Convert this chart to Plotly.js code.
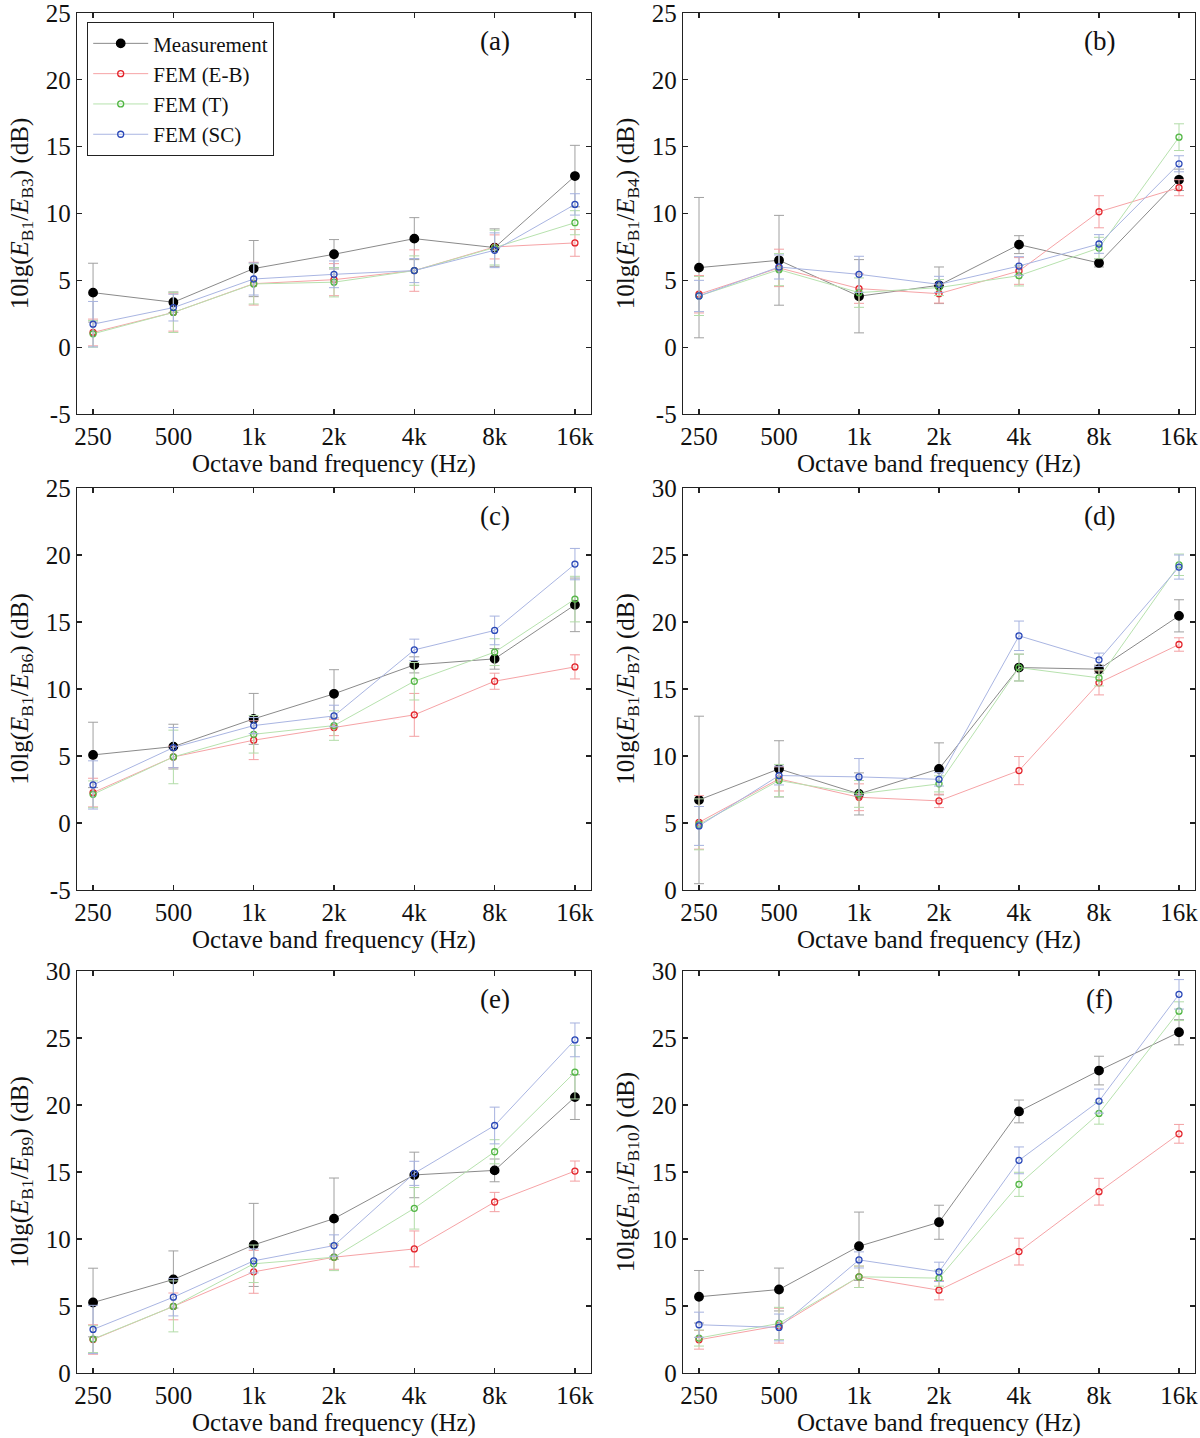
<!DOCTYPE html>
<html>
<head>
<meta charset="utf-8">
<script src="https://cdn.plot.ly/plotly-3.0.1.min.js"></script>
<style>
    html, body { margin: 0; padding: 0; background: #fff; }
    #chart { width: 1200px; height: 1438px; }
</style>
</head>
<body>
<div id="chart"></div>
<script>
// octave bands
let bands = ['250', '500', '1k', '2k', '4k', '8k', '16k']

// (a) E_B1/E_B3
let measA = [4.08, 3.36, 5.88, 6.95, 8.12, 7.45, 12.8]
let measAErr = [2.2, 0.77, 2.1, 1.1, 1.57, 1.4, 2.3]
let ebA = [1.1, 2.6, 4.75, 5.05, 5.73, 7.5, 7.8]
let ebAErr = [1.0, 1.4, 1.6, 1.2, 1.55, 0.9, 1.0]
let tA = [1.0, 2.6, 4.73, 4.86, 5.73, 7.45, 9.31]
let tAErr = [1.0, 1.5, 1.5, 1.1, 1.1, 1.3, 0.9]
let scA = [1.72, 2.96, 5.1, 5.45, 5.73, 7.25, 10.68]
let scAErr = [1.7, 1.0, 1.2, 1.0, 0.9, 1.3, 0.8]

// (b) E_B1/E_B4
let measB = [5.95, 6.5, 3.81, 4.63, 7.67, 6.3, 12.52]
let measBErr = [5.25, 3.36, 2.74, 1.37, 0.67, 0.3, 0.8]
let ebB = [3.96, 5.93, 4.38, 4.0, 5.7, 10.13, 11.93]
let ebBErr = [1.4, 1.4, 1.1, 0.7, 1.0, 1.2, 0.6]
let tB = [3.83, 5.8, 4.08, 4.46, 5.35, 7.42, 15.71]
let tBErr = [1.46, 1.2, 1.1, 0.6, 0.77, 0.8, 1.0]
let scB = [3.83, 6.0, 5.45, 4.7, 6.07, 7.72, 13.72]
let scBErr = [1.17, 0.9, 1.35, 0.6, 0.7, 0.7, 0.6]

// (c) E_B1/E_B6
let measC = [5.08, 5.7, 7.77, 9.64, 11.8, 12.25, 16.28]
let measCErr = [2.44, 1.67, 1.9, 1.8, 0.6, 0.77, 2.0]
let ebC = [2.27, 4.93, 6.18, 7.12, 8.07, 10.58, 11.65]
let ebCErr = [1.07, 0.8, 1.45, 0.6, 1.6, 0.6, 0.9]
let tC = [2.14, 4.93, 6.62, 7.27, 10.58, 12.75, 16.71]
let tCErr = [1.0, 2.0, 1.4, 1.1, 1.4, 1.0, 1.7]
let scC = [2.84, 5.63, 7.27, 7.99, 12.92, 14.37, 19.32]
let scCErr = [1.8, 1.5, 0.6, 0.8, 0.8, 1.07, 1.17]

// (d) E_B1/E_B7
let measD = [6.72, 9.04, 7.17, 9.04, 16.6, 16.48, 20.46]
let measDErr = [6.25, 2.1, 1.57, 1.94, 1.0, 0.3, 1.2]
let ebD = [5.05, 8.29, 6.92, 6.65, 8.91, 15.46, 18.32]
let ebDErr = [2.0, 0.9, 1.0, 0.5, 1.05, 0.9, 0.5]
let tD = [4.9, 8.17, 7.17, 7.92, 16.6, 15.83, 24.27]
let tDErr = [1.9, 1.2, 1.0, 0.6, 1.0, 0.6, 0.8]
let scD = [4.78, 8.54, 8.44, 8.26, 18.97, 17.18, 24.1]
let scDErr = [1.45, 0.7, 1.37, 0.5, 1.1, 0.5, 0.9]

// (e) E_B1/E_B9
let measE = [5.26, 6.98, 9.56, 11.52, 14.78, 15.12, 20.59]
let measEErr = [2.56, 2.13, 3.1, 3.03, 1.7, 0.85, 1.67]
let ebE = [2.5, 4.97, 7.55, 8.64, 9.26, 12.76, 15.07]
let ebEErr = [1.1, 1.0, 1.6, 0.9, 1.34, 0.72, 0.75]
let tE = [2.53, 4.97, 8.15, 8.64, 12.29, 16.51, 22.45]
let tEErr = [1.0, 1.9, 1.4, 1.0, 1.55, 0.9, 2.0]
let scE = [3.25, 5.66, 8.37, 9.51, 14.9, 18.47, 24.86]
let scEErr = [1.8, 1.4, 0.9, 0.8, 0.9, 1.37, 1.26]

// (f) E_B1/E_B10
let measF = [5.69, 6.23, 9.46, 11.25, 19.52, 22.57, 25.43]
let measFErr = [1.96, 1.6, 2.55, 1.27, 0.85, 1.07, 0.94]
let ebF = [2.48, 3.53, 7.18, 6.18, 9.06, 13.53, 17.85]
let ebFErr = [0.7, 1.3, 0.8, 0.72, 1.0, 1.0, 0.7]
let tF = [2.61, 3.7, 7.18, 7.08, 14.08, 19.37, 27.0]
let tFErr = [0.6, 1.2, 0.8, 0.6, 0.9, 0.8, 0.7]
let scF = [3.6, 3.4, 8.44, 7.55, 15.87, 20.29, 28.26]
let scFErr = [0.94, 1.0, 0.6, 0.72, 1.0, 0.9, 1.1]

let panelLabels = ['(a)', '(b)', '(c)', '(d)', '(e)', '(f)']
let refBands = ['B3', 'B4', 'B6', 'B7', 'B9', 'B10']
let yRanges = [[-5, 25], [-5, 25], [-5, 25], [0, 30], [0, 30], [0, 30]]

let panels = [
    [measA, measAErr, ebA, ebAErr, tA, tAErr, scA, scAErr],
    [measB, measBErr, ebB, ebBErr, tB, tBErr, scB, scBErr],
    [measC, measCErr, ebC, ebCErr, tC, tCErr, scC, scCErr],
    [measD, measDErr, ebD, ebDErr, tD, tDErr, scD, scDErr],
    [measE, measEErr, ebE, ebEErr, tE, tEErr, scE, scEErr],
    [measF, measFErr, ebF, ebFErr, tF, tFErr, scF, scFErr],
]

let seriesStyle = [
    { name: 'Measurement', symbol: 'circle', size: 8.5, marker: '#000000', line: '#8a8a8a', err: '#a0a0a0' },
    { name: 'FEM (E-B)', symbol: 'circle-open', size: 6, marker: '#e3242b', line: '#f6a3a6', err: '#f3a0a3' },
    { name: 'FEM (T)', symbol: 'circle-open', size: 6, marker: '#52b644', line: '#b7e2ae', err: '#b2dca8' },
    { name: 'FEM (SC)', symbol: 'circle-open', size: 6, marker: '#2a48b8', line: '#a9b5e2', err: '#a6b2df' },
]

let font = 'Liberation Serif, Times New Roman, serif'
let xIdx = bands.map((b, i) => i)

// page pixels -> paper fractions
let W = 1200, H = 1438
let M = { l: 77, r: 5, t: 13, b: 65 }
let px = (v) => (v - M.l) / (W - M.l - M.r)
let py = (v) => 1 - (v - M.t) / (H - M.t - M.b)

let colDomains = [[px(77), px(591)], [px(683), px(1195)]]
let rowDomains = [[py(414), py(13)], [py(890), py(488)], [py(1373), py(971)]]

let traces = []
let layout = {
    width: W,
    height: H,
    margin: M,
    paper_bgcolor: '#ffffff',
    plot_bgcolor: '#ffffff',
    font: { family: font, size: 25, color: '#111' },
    showlegend: true,
    legend: {
        x: px(87), y: py(22), xref: 'paper', yref: 'paper',
        xanchor: 'left', yanchor: 'top',
        bgcolor: '#ffffff', bordercolor: '#222', borderwidth: 1.2,
        font: { family: font, size: 21, color: '#111' },
        itemwidth: 55,
        tracegroupgap: 0,
    },
    annotations: [],
}

for (let p = 0; p < 6; p++) {
    let n = p + 1
    let xa = n == 1 ? 'x' : 'x' + n
    let ya = n == 1 ? 'y' : 'y' + n
    let data = panels[p]

    for (let s = 0; s < 4; s++) {
        let st = seriesStyle[s]
        traces.push({
            x: xIdx,
            y: data[s * 2],
            error_y: { type: 'data', array: data[s * 2 + 1], visible: true, color: st.err, thickness: 1, width: 5 },
            mode: 'lines+markers',
            name: st.name,
            legendgroup: st.name,
            showlegend: p == 0,
            line: { color: st.line, width: 1 },
            marker: { symbol: st.symbol, size: st.size, color: st.marker, line: { color: st.marker, width: 1.3 } },
            xaxis: xa,
            yaxis: ya,
            cliponaxis: false,
        })
    }

    let range = yRanges[p]
    let yTicks = []
    for (let v = range[0]; v <= range[1]; v += 5)
        yTicks.push(v)

    let axisBase = {
        showline: true, linecolor: '#222', linewidth: 1.3, mirror: 'ticks',
        ticks: 'inside', ticklen: 5, tickwidth: 1.2, tickcolor: '#222',
        showgrid: false, zeroline: false,
        ticklabeloverflow: 'allow',
        tickfont: { family: font, size: 25, color: '#111' },
    }

    layout['xaxis' + (n == 1 ? '' : n)] = Object.assign({}, axisBase, {
        domain: colDomains[p % 2],
        anchor: ya,
        range: [-0.2, 6.2],
        tickvals: xIdx,
        ticktext: bands,
        title: { text: 'Octave band frequency (Hz)', font: { family: font, size: 25, color: '#111' }, standoff: 4 },
    })

    layout['yaxis' + (n == 1 ? '' : n)] = Object.assign({}, axisBase, {
        domain: rowDomains[Math.floor(p / 2)],
        anchor: xa,
        range: range,
        tickvals: yTicks,
        ticktext: yTicks.map(String),
        title: {
            text: `10lg(<i>E</i><sub>B1</sub>/<i>E</i><sub>${refBands[p]}</sub>) (dB)`,
            font: { family: font, size: 25, color: '#111' },
            standoff: 10,
        },
    })

    layout.annotations.push({
        x: 5, y: range[1] - 2.1, xref: xa, yref: ya,
        text: panelLabels[p], showarrow: false,
        font: { family: font, size: 27, color: '#111' },
    })
}

Plotly.newPlot('chart', traces, layout, { displayModeBar: false, staticPlot: true })
</script>
</body>
</html>
